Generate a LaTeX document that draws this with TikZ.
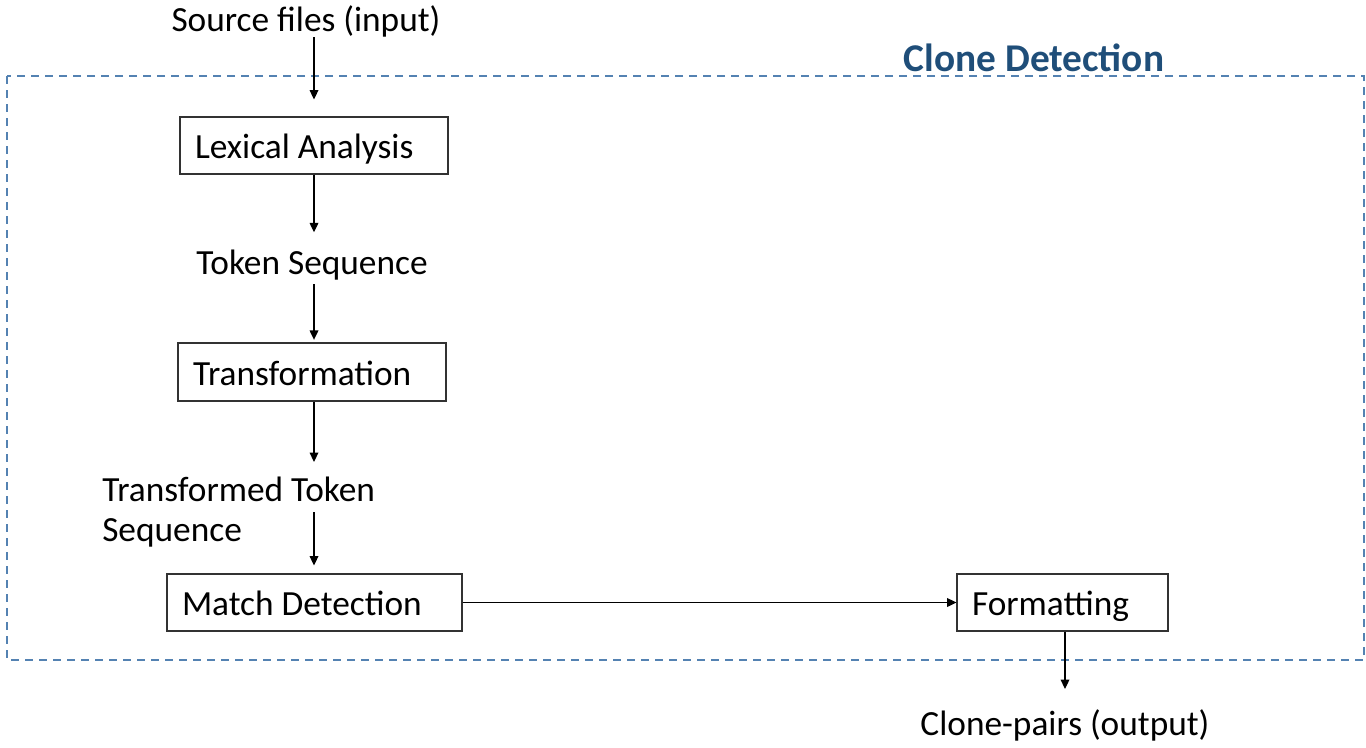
\documentclass[tikz,border=0pt]{standalone}
\usepackage{fontspec}
\setmainfont{Carlito}
\usetikzlibrary{arrows.meta,calc}
\definecolor{titleblue}{RGB}{31,78,121}
\definecolor{dashblue}{RGB}{84,130,178}
\definecolor{boxgray}{RGB}{50,50,50}
\begin{document}
\begin{tikzpicture}[x=0.75pt,y=-0.75pt,
  every node/.style={font=\fontsize{26.5pt}{30pt}\selectfont},
  plain/.style={inner sep=0pt},
  stagebox/.style={draw=boxgray,line width=0.8pt,align=flush left,inner xsep=11.25pt,inner ysep=0pt,text height=26pt,text depth=6pt},
  arr/.style={-{Triangle[length=7pt,width=6.5pt]},line width=0.9pt},
  frame/.style={draw=dashblue,line width=1.5pt,dash pattern=on 6pt off 4.5pt}]
\useasboundingbox (0,0) rectangle (1366,747);
\draw[frame] (7,76) rectangle (1364,660);
\node[plain,font=\fontsize{29.5pt}{30pt}\selectfont\bfseries,text=titleblue] (title) at (1034,58) {Clone Detection};
\node[plain] (src) at (306,21) {Source files (input)};
\node[stagebox,text width=178.5pt,minimum height=42.75pt] (lex) at (314,145.5) {Lexical Analysis};
\node[plain] (tok) at (312,265) {Token Sequence};
\node[stagebox,text width=178.5pt,minimum height=43.5pt] (tf) at (312,372) {Transformation};
\node[plain,align=flush left,anchor=west] (tts) at (102,512) {Transformed Token\\Sequence};
\node[stagebox,text width=198.75pt,minimum height=42.75pt] (md) at (314.5,602.5) {Match Detection};
\node[stagebox,text width=135.75pt,minimum height=42.75pt] (fmt) at (1062.5,602.5) {Formatting};
\node[plain] (out) at (1065,725) {Clone-pairs (output)};
% connectors
\draw[arr,shorten >=12.75pt] (lex.north |- src.south) -- (lex.north);
\draw[arr,shorten >=13pt] (lex.south) -- (lex.south |- tok.north);
\draw[arr,shorten <=3pt,shorten >=2pt] (lex.south |- tok.south) -- (lex.south |- tf.north);
\draw[arr,shorten >=11pt] (lex.south |- tf.south) -- (lex.south |- tts.north);
\draw[arr,shorten >=6pt] (lex.south |- tts.center) -- (lex.south |- md.north);
\draw[arr,line width=1pt] (md.east) -- (fmt.west);
\draw[arr,shorten >=15pt] (fmt.south -| out.north) -- (out.north);
\end{tikzpicture}
\end{document}
